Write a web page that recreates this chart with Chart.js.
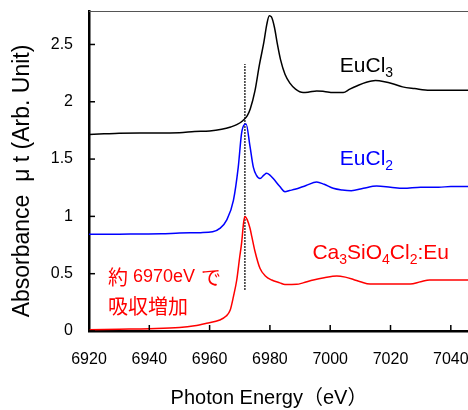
<!DOCTYPE html>
<html>
<head>
<meta charset="utf-8">
<script src="https://cdn.jsdelivr.net/npm/chart.js@4.4.1/dist/chart.umd.min.js"></script>
<style>
html, body { margin: 0; padding: 0; background: #fff; }
#wrap { width: 468px; height: 410px; position: relative; }
</style>
</head>
<body>
<div id="wrap"><canvas id="xafsChart"></canvas></div>
<script>
// axis ticks
const xTicks = [6920, 6940, 6960, 6980, 7000, 7020, 7040];
const yTicks = [0, 0.5, 1, 1.5, 2, 2.5];

// EuCl3 (black)
const eucl3Energy = [6920, 6925, 6930, 6940, 6950, 6955, 6960, 6964, 6967, 6969, 6971, 6972.5, 6973.5, 6975, 6976.5, 6978, 6979, 6979.8, 6980.5, 6981.5, 6982.5, 6983.5, 6985, 6986.7, 6988.5, 6991, 6993, 6995.5, 6998, 7001, 7004.3, 7006.5, 7009, 7012, 7015, 7018, 7021, 7024, 7028, 7033, 7040, 7046];
const eucl3Abs = [1.715, 1.72, 1.725, 1.727, 1.73, 1.74, 1.745, 1.76, 1.78, 1.80, 1.835, 1.88, 1.94, 2.09, 2.32, 2.52, 2.68, 2.75, 2.74, 2.65, 2.50, 2.37, 2.24, 2.16, 2.11, 2.08, 2.085, 2.095, 2.09, 2.08, 2.08, 2.11, 2.14, 2.17, 2.185, 2.175, 2.155, 2.13, 2.115, 2.10, 2.10, 2.10];

// EuCl2 (blue)
const eucl2Energy = [6920, 6930, 6944, 6950, 6957, 6961, 6963.4, 6965.7, 6967.9, 6969.5, 6970.6, 6971.5, 6972.1, 6973.4, 6974.5, 6975.5, 6976.7, 6978, 6978.9, 6980, 6981.1, 6983.3, 6985, 6986.5, 6988.3, 6992, 6995.5, 6998, 7001, 7004, 7007, 7011, 7015.4, 7020, 7024.3, 7030, 7036, 7040, 7046];
const eucl2Abs = [0.844, 0.845, 0.848, 0.855, 0.858, 0.865, 0.895, 0.97, 1.14, 1.43, 1.725, 1.80, 1.805, 1.61, 1.43, 1.36, 1.33, 1.36, 1.376, 1.36, 1.33, 1.26, 1.215, 1.225, 1.236, 1.27, 1.30, 1.28, 1.245, 1.23, 1.224, 1.245, 1.265, 1.255, 1.245, 1.255, 1.255, 1.26, 1.26];

// Ca3SiO4Cl2:Eu (red)
const sampleEnergy = [6920, 6930, 6940, 6950, 6955, 6959, 6963.4, 6965.5, 6966.8, 6967.9, 6969, 6970, 6970.6, 6971.3, 6971.7, 6972.5, 6973.4, 6974, 6975, 6976.7, 6978.5, 6980.6, 6983.3, 6985, 6988.9, 6991, 6994.4, 6998, 7002.2, 7005, 7007.7, 7010, 7013.2, 7020, 7026.5, 7030, 7033, 7046];
const sampleAbs = [0.01, 0.015, 0.02, 0.03, 0.045, 0.067, 0.096, 0.13, 0.18, 0.30, 0.445, 0.65, 0.765, 0.95, 1.00, 0.97, 0.896, 0.823, 0.70, 0.547, 0.48, 0.445, 0.42, 0.405, 0.407, 0.42, 0.445, 0.465, 0.48, 0.47, 0.45, 0.43, 0.41, 0.41, 0.41, 0.43, 0.445, 0.445];

// dotted marker at the absorption edge
const edgeEnergy = [6971.7, 6971.7];
const edgeAbs = [0.36, 2.33];

function pts(xs, ys) {
    return xs.map(function(x, i) { return {x: x, y: ys[i]}; });
}

const latin = '"Liberation Sans", Arial, sans-serif';
const latinJp = '"Liberation Sans", Arial, "Noto Sans CJK JP", sans-serif';
const jp = '"Noto Sans CJK JP", sans-serif';

// formula with digits as subscripts
function drawFormula(ctx, text, x, y, color) {
    ctx.fillStyle = color;
    ctx.textAlign = 'left';
    ctx.textBaseline = 'alphabetic';
    for (let i = 0; i < text.length; i++) {
        const ch = text[i];
        if (/[0-9]/.test(ch)) {
            ctx.font = '14px ' + latin;
            ctx.fillText(ch, x, y + 5);
        } else {
            ctx.font = '21px ' + latin;
            ctx.fillText(ch, x, y);
        }
        x += ctx.measureText(ch).width;
    }
}

const decor = {
    id: 'decor',
    afterDraw(chart) {
        const ctx = chart.ctx, xs = chart.scales.x, ys = chart.scales.y, a = chart.chartArea;
        ctx.save();
        // thin top frame
        ctx.strokeStyle = '#555';
        ctx.lineWidth = 1;
        ctx.beginPath();
        ctx.moveTo(a.left, a.top + 0.5);
        ctx.lineTo(a.right, a.top + 0.5);
        ctx.stroke();
        // inward ticks
        ctx.strokeStyle = '#000';
        ctx.lineWidth = 1.5;
        xTicks.forEach(function(v) {
            const px = xs.getPixelForValue(v);
            ctx.beginPath(); ctx.moveTo(px, a.bottom); ctx.lineTo(px, a.bottom - 6); ctx.stroke();
        });
        yTicks.forEach(function(v) {
            const py = ys.getPixelForValue(v);
            ctx.beginPath(); ctx.moveTo(a.left, py); ctx.lineTo(a.left + 6, py); ctx.stroke();
        });

        // series labels
        drawFormula(ctx, 'EuCl3', xs.getPixelForValue(7003.2), ys.getPixelForValue(2.263), '#000');
        drawFormula(ctx, 'EuCl2', xs.getPixelForValue(7003.2), ys.getPixelForValue(1.449), '#0000ff');
        drawFormula(ctx, 'Ca3SiO4Cl2:Eu', xs.getPixelForValue(6994.1), ys.getPixelForValue(0.626), '#ff0000');

        // japanese note
        ctx.fillStyle = '#ff0000';
        ctx.textBaseline = 'middle';
        ctx.textAlign = 'left';
        let nx = xs.getPixelForValue(6926.3);
        const l1 = ys.getPixelForValue(0.467), l2 = ys.getPixelForValue(0.218);
        ctx.font = '20px ' + jp;
        ctx.fillText('約', nx, l1);
        ctx.font = '18px ' + latin;
        ctx.fillText('6970eV', nx + 25, l1);
        ctx.font = '20px ' + jp;
        ctx.fillText('で', nx + 93, l1);
        ctx.fillText('吸収増加', nx, l2);

        // axis titles
        ctx.fillStyle = '#000';
        ctx.textAlign = 'center';
        ctx.font = '20px ' + latinJp;
        ctx.fillText('Photon Energy（eV）', 269, 398);

        ctx.translate(23, 181);
        ctx.rotate(-Math.PI / 2);
        ctx.font = '23px ' + latin;
        ctx.fillText('Absorbance  μ t (Arb. Unit)', 0, 0);
        ctx.restore();
    }
};

const line = function(label, data, color) {
    return {
        label: label, data: data, borderColor: color, borderWidth: 1.5,
        showLine: true, pointRadius: 0, cubicInterpolationMode: 'monotone', fill: false
    };
};

const dotted = line('edge', pts(edgeEnergy, edgeAbs), '#000');
dotted.borderDash = [1.5, 1.5];
dotted.borderWidth = 1.6;
dotted.cubicInterpolationMode = 'default';

new Chart(document.getElementById('xafsChart'), {
    type: 'scatter',
    data: {
        datasets: [
            line('EuCl3', pts(eucl3Energy, eucl3Abs), '#000000'),
            line('EuCl2', pts(eucl2Energy, eucl2Abs), '#0000ff'),
            line('Ca3SiO4Cl2:Eu', pts(sampleEnergy, sampleAbs), '#ff0000'),
            dotted
        ]
    },
    options: {
        responsive: true,
        maintainAspectRatio: false,
        animation: false,
        events: [],
        layout: { padding: { top: 11, right: 0, left: 0, bottom: 0 } },
        plugins: { legend: { display: false }, tooltip: { enabled: false } },
        scales: {
            x: {
                type: 'linear', min: 6920, max: 7045.7,
                grid: { display: false, drawTicks: false },
                border: { display: true, color: '#000', width: 2.5 },
                ticks: { color: '#000', font: { size: 16, family: latin }, padding: 19, maxRotation: 0,
                    callback: function(v) { return String(v); } },
                afterBuildTicks: function(s) { s.ticks = xTicks.map(function(v) { return {value: v}; }); },
                afterFit: function(s) { s.height = 79; s.paddingLeft = 0; s.paddingRight = 0; }
            },
            y: {
                type: 'linear', min: 0, max: 2.792,
                grid: { display: false, drawTicks: false },
                border: { display: true, color: '#000', width: 2.5 },
                ticks: { color: '#000', font: { size: 16, family: latin }, padding: 16,
                    callback: function(v) { return String(v); } },
                afterBuildTicks: function(s) { s.ticks = yTicks.map(function(v) { return {value: v}; }); },
                afterFit: function(s) { s.width = 89; s.paddingTop = 0; s.paddingBottom = 0; }
            }
        }
    },
    plugins: [decor]
});
</script>
</body>
</html>
